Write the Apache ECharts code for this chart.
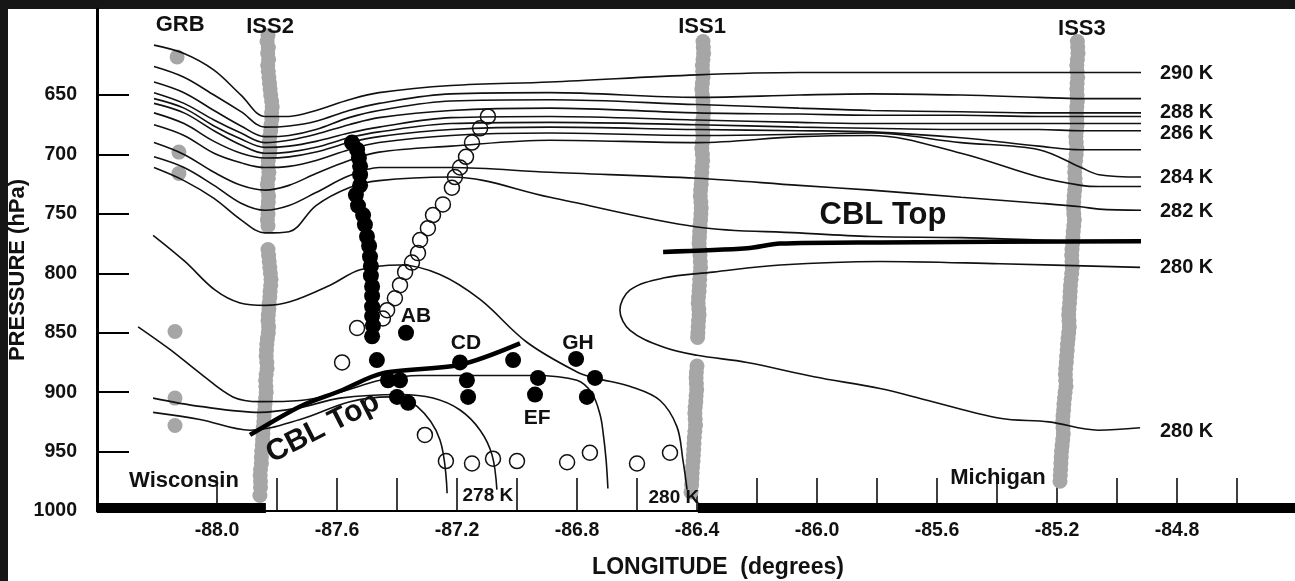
<!DOCTYPE html>
<html><head><meta charset="utf-8">
<script src="https://cdn.jsdelivr.net/npm/echarts@6/dist/echarts.min.js"></script>
<style>html,body{margin:0;padding:0;background:#161616;}#c{width:1295px;height:581px;}</style>
</head><body><div id="c"></div>
<script>
// ---------- axis ticks / labels ----------
const xLabelValues = [-88.0,-87.6,-87.2,-86.8,-86.4,-86.0,-85.6,-85.2,-84.8];
const xTickValues = [-88.0,-87.8,-87.6,-87.4,-87.2,-87.0,-86.8,-86.6,-86.4,-86.2,-86.0,-85.8,-85.6,-85.4,-85.2,-85.0,-84.8,-84.6];
const yLabelValues = [650,700,750,800,850,900,950,1000];

// ---------- upper isentropes (shared longitudes, pressure in hPa) ----------
const upperLon = [-88.21,-88.11,-88.01,-87.92,-87.84,-87.76,-87.67,-87.56,-87.46,-87.22,-86.89,-86.40,-86.06,-85.82,-85.52,-85.26,-85.12,-85.06,-84.92];
const theta290 = [608,615,629,650,668,668,663,654,648,642,639,633,631,631,631,631,631,631,631];
const theta289 = [626,635,650,664,677,676,672,663,657,649,648,652,650,649,650,652,653,653,653];
const theta288b = [639,648,663,676,685,684,679,669,663,655,654,658,661,663,664,665,665,665,665];
const theta288 = [648,657,671,682,690,688,683,675,669,663,661,665,666,667,667,668,668,668,668];
const theta287 = [653,661,676,687,694,693,689,682,677,669,668,671,673,674,674,674,674,674,674];
const theta286 = [657,665,680,692,699,698,694,686,681,674,673,675,677,678,679,679,680,680,680];
const theta285 = [665,674,689,699,703,702,698,690,685,679,677,679,680,681,686,693,696,696,696];
const theta284 = [675,684,699,707,711,710,705,696,690,684,682,684,683,682,690,696,711,717,719];
const theta283 = [690,700,715,726,730,726,716,705,698,693,688,690,685,684,699,719,726,727,727];
const theta282 = [702,711,726,741,747,743,732,718,711,711,715,720,726,730,736,741,744,746,747];
const theta281 = [711,722,737,755,766,765,743,728,722,719,736,761,766,769,770,772,773,773,773];

// ---------- lower isentropes [lon, hPa] ----------
const theta280West = [[-88.213,768],[-88.107,790],[-88.007,814],[-87.923,825],[-87.84,827],[-87.757,824],[-87.623,810],[-87.523,797],[-87.39,793],[-87.257,801],[-87.123,822],[-86.967,858],[-86.8,883],[-86.74,888],[-86.613,896],[-86.523,907],[-86.467,929],[-86.447,957],[-86.433,982]];
const theta279 = [[-88.263,845],[-88.157,864],[-88.057,884],[-87.947,904],[-87.857,908],[-87.723,907],[-87.59,900],[-87.457,890],[-87.323,886],[-87.123,886],[-86.947,886],[-86.8,890],[-86.75,901],[-86.723,919],[-86.713,934],[-86.703,957],[-86.697,981]];
const theta278 = [[-88.213,905],[-88.057,912],[-87.857,917],[-87.723,913],[-87.59,905],[-87.39,902],[-87.28,905],[-87.19,915],[-87.123,932],[-87.083,953],[-87.067,982]];
const theta277 = [[-88.213,917],[-88.057,923],[-87.89,932],[-87.723,923],[-87.557,908],[-87.423,904],[-87.333,912],[-87.257,940],[-87.233,985]];
const theta280Tongue = [[-84.923,795],[-85.39,792],[-85.79,790],[-86.123,793],[-86.347,799],[-86.513,804],[-86.623,814],[-86.657,831],[-86.623,848],[-86.513,862],[-86.4,869],[-86.233,875],[-86.01,887],[-85.79,897],[-85.63,907],[-85.39,922],[-85.227,925],[-85.063,932],[-84.923,930]];

// ---------- CBL top ----------
const cblWest = [[-87.89,936],[-87.723,912],[-87.59,899],[-87.447,884],[-87.19,877],[-86.99,859]];
const cblEast = [[-86.513,782],[-86.233,779],[-86.123,775],[-85.79,774],[-84.92,773]];

// ---------- land strips at the surface ----------
const wisconsinLand = [[-88.4,997.5],[-87.837,997.5]];
const michiganLand = [[-86.397,997.5],[-84.4,997.5]];

// ---------- soundings (grey) ----------
const grb = [[-88.133,618],[-88.127,698],[-88.127,716],[-88.14,849],[-88.14,905],[-88.14,928]];
const iss2 = [[-87.830,600],[-87.833,605],[-87.829,610],[-87.831,615],[-87.828,620],[-87.831,625],[-87.829,630],[-87.827,635],[-87.825,640],[-87.823,645],[-87.821,650],[-87.818,655],[-87.816,660],[-87.818,665],[-87.817,670],[-87.820,675],[-87.821,680],[-87.824,685],[-87.826,690],[-87.823,695],[-87.825,700],[-87.829,705],[-87.830,710],[-87.827,715],[-87.829,720],[-87.832,725],[-87.831,730],[-87.828,735],[-87.829,740],[-87.831,745],[-87.830,750],[-87.832,755],[-87.830,760],
  [-87.830,780],[-87.828,785],[-87.826,790],[-87.824,795],[-87.822,800],[-87.820,805],[-87.821,810],[-87.823,815],[-87.824,820],[-87.826,825],[-87.827,830],[-87.829,835],[-87.830,840],[-87.828,845],[-87.829,850],[-87.832,855],[-87.834,860],[-87.835,865],[-87.836,870],[-87.834,875],[-87.833,880],[-87.836,885],[-87.838,890],[-87.837,895],[-87.836,900],[-87.838,905],[-87.840,910],[-87.841,915],[-87.843,920],[-87.844,925],[-87.846,930],[-87.847,935],[-87.848,940],[-87.849,945],[-87.851,950],[-87.852,955],[-87.852,960],[-87.855,965],[-87.856,970],[-87.855,975],[-87.855,980],[-87.857,987]];
const iss1 = [[-86.380,605],[-86.379,610],[-86.378,615],[-86.380,620],[-86.382,625],[-86.381,630],[-86.380,635],[-86.382,640],[-86.384,645],[-86.382,650],[-86.380,655],[-86.379,660],[-86.378,665],[-86.380,670],[-86.382,675],[-86.381,680],[-86.380,685],[-86.382,690],[-86.384,695],[-86.382,700],[-86.381,705],[-86.383,710],[-86.384,715],[-86.385,720],[-86.386,725],[-86.388,730],[-86.389,735],[-86.387,740],[-86.386,745],[-86.387,750],[-86.388,755],[-86.390,760],[-86.391,765],[-86.392,770],[-86.393,775],[-86.391,780],[-86.390,785],[-86.389,790],[-86.388,795],[-86.390,800],[-86.391,805],[-86.392,810],[-86.393,815],[-86.395,820],[-86.396,825],[-86.394,830],[-86.393,835],[-86.395,840],[-86.396,845],[-86.397,850],[-86.398,854],
  [-86.400,878],[-86.402,883],[-86.403,888],[-86.402,893],[-86.401,898],[-86.403,903],[-86.404,908],[-86.406,913],[-86.407,918],[-86.406,923],[-86.405,928],[-86.407,933],[-86.409,938],[-86.410,943],[-86.411,948],[-86.412,953],[-86.413,958],[-86.415,963],[-86.416,968],[-86.417,973],[-86.418,978],[-86.420,984]];
const iss3 = [[-85.132,605],[-85.131,610],[-85.130,615],[-85.132,620],[-85.134,625],[-85.133,630],[-85.131,635],[-85.133,640],[-85.134,645],[-85.133,650],[-85.132,655],[-85.134,660],[-85.135,665],[-85.134,670],[-85.133,675],[-85.135,680],[-85.137,685],[-85.136,690],[-85.134,695],[-85.136,700],[-85.138,705],[-85.140,710],[-85.141,715],[-85.140,720],[-85.139,725],[-85.141,730],[-85.143,735],[-85.144,740],[-85.145,745],[-85.144,750],[-85.142,755],[-85.144,760],[-85.146,765],[-85.147,770],[-85.148,775],[-85.150,780],[-85.151,785],[-85.150,790],[-85.149,795],[-85.151,800],[-85.153,805],[-85.155,810],[-85.156,815],[-85.157,820],[-85.158,825],[-85.160,830],[-85.161,835],[-85.160,840],[-85.159,845],[-85.161,850],[-85.163,855],[-85.165,860],[-85.166,865],[-85.168,870],[-85.169,875],[-85.171,880],[-85.172,885],[-85.171,890],[-85.170,895],[-85.173,900],[-85.175,905],[-85.177,910],[-85.178,915],[-85.180,920],[-85.181,925],[-85.180,930],[-85.179,935],[-85.181,940],[-85.183,945],[-85.185,950],[-85.186,955],[-85.187,960],[-85.188,965],[-85.189,970],[-85.190,975]];

// ---------- aircraft CBL observations ----------
const filledObs = [[-87.55,690],[-87.533,696],[-87.527,703],[-87.523,710],[-87.523,717],[-87.523,726],[-87.537,734],[-87.53,743],[-87.513,751],[-87.507,759],[-87.5,769],[-87.493,777],[-87.49,786],[-87.487,794],[-87.487,802],[-87.483,811],[-87.483,819],[-87.483,828],[-87.483,836],[-87.48,844],[-87.483,853],
  [-87.37,850],[-87.467,873],[-87.43,890],[-87.39,890],[-87.4,904],[-87.363,909],[-87.19,875],[-87.167,890],[-87.163,904],[-87.013,873],[-86.93,888],[-86.94,902],[-86.803,872],[-86.74,888],[-86.767,904]];
const openObs = [[-87.097,668],[-87.123,678],[-87.15,690],[-87.17,702],[-87.19,711],[-87.207,719],[-87.217,728],[-87.247,742],[-87.28,751],[-87.297,762],[-87.323,772],[-87.33,783],[-87.35,791],[-87.373,799],[-87.39,810],[-87.407,821],[-87.433,831],[-87.447,838],
  [-87.533,846],[-87.583,875],[-87.307,936],[-87.237,958],[-87.15,960],[-87.08,956],[-87.0,958],[-86.833,959],[-86.757,951],[-86.6,960],[-86.49,951]];

// ---------- text annotations [text, lon, hPa] ----------
const stationLabels = [['GRB',-88.123,591],['ISS2',-87.823,593],['ISS1',-86.383,593],['ISS3',-85.117,594.5]];
const legLabels = [['AB',-87.337,836],['CD',-87.17,858.6],['GH',-86.797,858.6],['EF',-86.933,921.7]];
const thetaLabelsEast = [['290 K',-84.857,631.5],['288 K',-84.857,665],['286 K',-84.857,682],['284 K',-84.857,719],['282 K',-84.857,747.6],['280 K',-84.857,794.7],['280 K',-84.857,933.5]];
const thetaLabelsSurface = [['278 K',-87.097,987],['280 K',-86.477,989]];
const regionLabels = [['Wisconsin',-88.11,975],['Michigan',-85.397,972]];
const cblLabelEast = [['CBL Top',-85.78,751]];
const cblLabelWest = [['CBL Top',-87.647,930]];

const FONT = '"Liberation Sans", Arial, Helvetica, sans-serif';
const INK = '#111111';
function upper(arr){ return upperLon.map((x,i)=>[x,arr[i]]); }
function thin(data){ return {type:'line',data,smooth:0.35,symbol:'none',silent:true,z:3,lineStyle:{color:INK,width:1.6}}; }
function thick(data){ return {type:'line',data,smooth:0.3,symbol:'none',silent:true,z:4,lineStyle:{color:'#000',width:4.5}}; }
function land(data){ return {type:'line',data,symbol:'none',silent:true,clip:false,z:5,lineStyle:{color:'#000',width:10,cap:'butt'}}; }
function grey(data){ return {type:'scatter',data,symbol:'circle',symbolSize:15,silent:true,z:1,itemStyle:{color:'#a6a6a6',opacity:1}}; }
function text(items,size,pos,extra){
  return {type:'scatter',symbolSize:0,silent:true,z:8,itemStyle:{opacity:1},
    data:items.map(d=>({name:d[0],value:[d[1],d[2]]})),
    label:Object.assign({show:true,position:pos,distance:0,formatter:'{b}',color:INK,fontFamily:FONT,fontWeight:'bold',fontSize:size,opacity:1},extra||{})};
}

const chart = echarts.init(document.getElementById('c'));
chart.setOption({
  animation:false,
  backgroundColor:'#161616',
  graphic:[{type:'rect',left:8,top:9,shape:{width:1287,height:572},style:{fill:'#ffffff'},z:-10,silent:true}],
  grid:{left:97,top:9,width:1200,height:502,containLabel:false,outerBoundsMode:'none'},
  xAxis:{type:'value',min:-88.4,max:-84.4,
    name:'LONGITUDE  (degrees)',nameLocation:'middle',nameGap:45,nameMoveOverlap:false,
    nameTextStyle:{fontFamily:FONT,fontWeight:'bold',fontSize:23,color:INK,padding:[0,0,0,42]},
    axisLine:{show:true,lineStyle:{color:'#000',width:2}},
    axisTick:{show:true,inside:true,length:33,customValues:xTickValues,lineStyle:{color:'#000',width:1.5}},
    axisLabel:{customValues:xLabelValues,formatter:v=>v.toFixed(1),fontFamily:FONT,fontWeight:'bold',fontSize:19.5,color:INK,margin:10},
    splitLine:{show:false}},
  yAxis:{type:'value',inverse:true,min:577.6,max:1000,
    name:'PRESSURE (hPa)',nameLocation:'middle',nameGap:68,nameRotate:90,nameMoveOverlap:false,
    nameTextStyle:{fontFamily:FONT,fontWeight:'bold',fontSize:22,color:INK,padding:[0,20,0,0]},
    axisLine:{show:true,lineStyle:{color:'#000',width:3}},
    axisTick:{show:true,inside:true,length:32,customValues:yLabelValues,lineStyle:{color:'#000',width:2}},
    axisLabel:{customValues:yLabelValues,formatter:v=>String(v),fontFamily:FONT,fontWeight:'bold',fontSize:19.5,color:INK,margin:20},
    splitLine:{show:false}},
  series:[
    grey(grb),grey(iss2),grey(iss1),grey(iss3),
    thin(upper(theta290)),thin(upper(theta289)),thin(upper(theta288b)),thin(upper(theta288)),
    thin(upper(theta287)),thin(upper(theta286)),thin(upper(theta285)),thin(upper(theta284)),
    thin(upper(theta283)),thin(upper(theta282)),thin(upper(theta281)),
    thin(theta280West),thin(theta279),thin(theta278),thin(theta277),thin(theta280Tongue),
    thick(cblWest),thick(cblEast),
    land(wisconsinLand),land(michiganLand),
    {type:'scatter',data:openObs,symbol:'circle',symbolSize:15,silent:true,z:6,itemStyle:{color:'rgba(255,255,255,0)',borderColor:'#111',borderWidth:1.5,opacity:1}},
    {type:'scatter',data:filledObs,symbol:'circle',symbolSize:16,silent:true,z:7,itemStyle:{color:'#000',opacity:1}},
    text(stationLabels,22,'inside'),
    text(legLabels,21,'inside'),
    text(thetaLabelsEast,20,'right'),
    text(thetaLabelsSurface,19,'inside'),
    text(regionLabels,22,'inside'),
    text(cblLabelEast,31,'inside'),
    text(cblLabelWest,30,'inside',{rotate:27})
  ]
});
</script></body></html>
